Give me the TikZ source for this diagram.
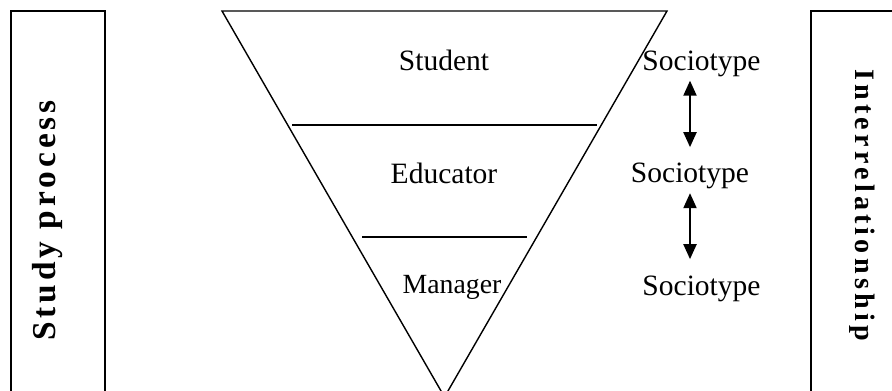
\documentclass[tikz,border=0pt]{standalone}
\usepackage{fontspec}
\setmainfont{Liberation Serif}
\newfontfamily\studyfont[LetterSpace=12]{Liberation Serif}
\newfontfamily\relfont[LetterSpace=15]{Liberation Serif}
\usepackage{tikz}
\usetikzlibrary{arrows.meta}
\tikzset{
    sidebox/.style={
           rectangle,
           draw=black, line width=0.9pt,
           minimum width=1.88cm,
           minimum height=8.3cm,
           inner sep=0pt,
           },
    sidetext/.style={
           inner sep=0pt,
           font=\bfseries,
           },
    frameless/.style={
           inner sep=0pt,
           anchor=base,
           font=\fontsize{16.8}{20}\selectfont,
           },
    divider/.style={
           line width=0.8pt,
           },
    dblarrow/.style={
           line width=0.8pt,
           {Triangle[length=8.5pt,width=7.5pt]}-{Triangle[length=8.5pt,width=7.5pt]},
           },
}

\begin{document}
\begin{tikzpicture}[x=0.02cm, y=-0.02cm]
	\useasboundingbox (0,0) rectangle (892,391);

	%side boxes
	\node[sidebox] (studybox) at (58,218.5) {};
	\node[sidebox, minimum width=2.06cm] (relbox) at (862.5,218.5) {};
	\node[sidetext, rotate=90] (studylbl) at (47.5,220.5)
		{\studyfont\fontsize{19}{22}\selectfont Study process};
	\node[sidetext, rotate=-90] (rellbl) at (862.5,205)
		{\relfont\fontsize{16}{19}\selectfont Interrelationship};

	%triangle
	\coordinate (tl) at (222,11);
	\coordinate (tr) at (667,11);
	\coordinate (apex) at (444.5,397);
	\coordinate (d1l) at (292,125);
	\coordinate (d1r) at (597,125);
	\coordinate (d2l) at (362,237);
	\coordinate (d2r) at (527,237);
	\draw[divider] (tl) -- (tr) -- (apex) -- cycle;
	\draw[divider] (d1l) -- (d1r);
	\draw[divider] (d2l) -- (d2r);

	\node[frameless] (student) at (444,71) {Student};
	\node[frameless] (educator) at (444,184) {Educator};
	\node[frameless, font=\fontsize{15.8}{19}\selectfont] (manager) at (452,294) {Manager};

	%sociotypes
	\node[frameless] (soc1) at (701.5,71) {Sociotype};
	\node[frameless] (soc2) at (690,183) {Sociotype};
	\node[frameless] (soc3) at (701.5,296) {Sociotype};

	%EDGES
	\draw[dblarrow, shorten <=0.06cm, shorten >=0.32cm] (soc1.south -| soc2) -- (soc2.north);
	\draw[dblarrow, shorten <=0.07cm, shorten >=0.34cm] (soc2.south) -- (soc3.north -| soc2);

\end{tikzpicture}
\end{document}
